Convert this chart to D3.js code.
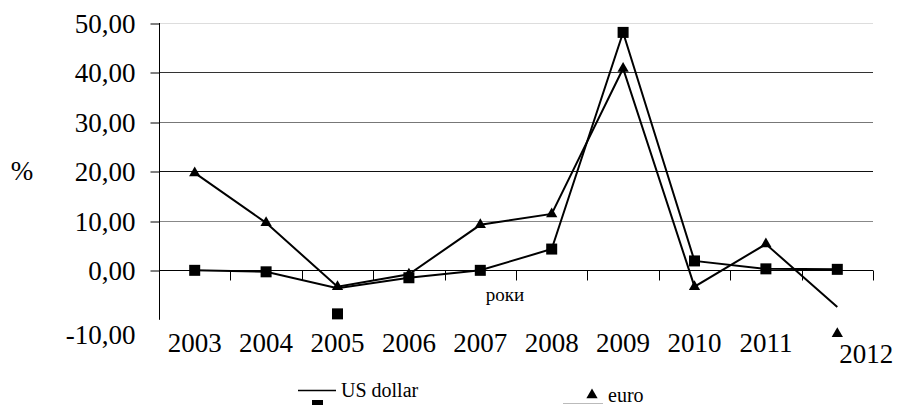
<!DOCTYPE html>
<html><head><meta charset="utf-8">
<script src="https://cdn.jsdelivr.net/npm/d3@7"></script>
<style>body{margin:0;background:#fff}svg{display:block}
svg text{font-family:"Liberation Serif","Times New Roman",Times,Tinos,"DejaVu Serif","Noto Serif",serif !important;fill:#000}</style>
</head><body><svg id="c" width="899" height="405"></svg>
<script>
const years = ["2003","2004","2005","2006","2007","2008","2009","2010","2011","2012"];
const usdLine = [0.0,-0.3,-3.6,-1.5,0.0,4.3,48.1,1.9,0.3,0.2];
const usdMarkers = [0.0,-0.3,-8.8,-1.5,0.0,4.3,48.1,1.9,0.3,0.2];
const euroLine = [19.7,9.6,-3.3,-0.8,9.2,11.4,40.8,-3.3,5.3,-7.4];
const euroMarkers = [19.7,9.6,-3.3,-0.8,9.2,11.4,40.8,-3.3,5.3,-12.8];
const yTicks = [-10,0,10,20,30,40,50];
const gridColors = {0:"#000",10:"#888",20:"#111",30:"#777",40:"#333",50:"#ddd"};

const svg = d3.select("#c");
const x = d3.scaleBand().domain(years).range([159,873]);
const y = d3.scaleLinear().domain([-10,50]).range([319.8,23]);
const cx = d => x(d)+x.bandwidth()/2;
const fmt = v => v.toFixed(2).replace(".",",");
const big = "27px";

// gridlines
svg.append("g").selectAll("line").data(yTicks.filter(t=>t>0)).join("line")
  .attr("x1",159).attr("x2",873).attr("y1",d=>Math.round(y(d))+0.5).attr("y2",d=>Math.round(y(d))+0.5)
  .attr("stroke",d=>gridColors[d]).attr("stroke-width",1);

// y axis
const yAxis = d3.axisLeft(y).tickValues(yTicks).tickSize(9).tickFormat(fmt).tickPadding(15);
const gy = svg.append("g").attr("transform","translate(159.5,0)").call(yAxis);
gy.attr("font-family",null).attr("font-size",null);
gy.select(".domain").attr("d","M0,23V319.8").attr("stroke","#000");
gy.selectAll(".tick line").attr("stroke","#000").filter(d=>d===-10).remove();
gy.selectAll(".tick text").style("font-size",big).attr("fill","#000")
  .attr("dy", d=> d===-10 ? "0.4em" : "0.34em")
  .attr("y", d=> d===-10 ? 13 : 0);
gy.selectAll(".tick line").attr("transform",d=>`translate(0,${Math.round(y(d))+0.5-y(d)})`);

// x axis at zero
const zy = Math.round(y(0))+0.5;
svg.append("line").attr("x1",159).attr("x2",873).attr("y1",zy).attr("y2",zy).attr("stroke","#000");
svg.append("g").selectAll("line").data(years).join("line")
  .attr("x1",d=>Math.round(x(d)+x.bandwidth())+0.5).attr("x2",d=>Math.round(x(d)+x.bandwidth())+0.5)
  .attr("y1",zy).attr("y2",zy+10).attr("stroke","#000");

// x labels
svg.append("g").selectAll("text").data(years).join("text")
  .attr("x",(d,i)=> i===years.length-1 ? cx(d)+29 : cx(d))
  .attr("y",(d,i)=> i===years.length-1 ? 363 : 352)
  .attr("text-anchor","middle").style("font-size",big).text(d=>d);

// lines
const line = vals => d3.line().x((d,i)=>cx(years[i])).y(d=>y(d))(vals);
svg.append("path").attr("d",line(usdLine)).attr("fill","none").attr("stroke","#000").attr("stroke-width",2);
svg.append("path").attr("d",line(euroLine)).attr("fill","none").attr("stroke","#000").attr("stroke-width",2);

// markers
svg.append("g").selectAll("rect").data(usdMarkers).join("rect")
  .attr("x",(d,i)=>cx(years[i])-5.5).attr("y",d=>y(d)-5.5).attr("width",11).attr("height",11).attr("fill","#000");
const tri = d3.symbol().type(d3.symbolTriangle).size(55);
svg.append("g").selectAll("path").data(euroMarkers).join("path")
  .attr("d",tri).attr("transform",(d,i)=>`translate(${cx(years[i])},${y(d)})`).attr("fill","#000");

// axis titles
svg.append("text").attr("x",22).attr("y",180).attr("text-anchor","middle").style("font-size",big).text("%");
svg.append("text").attr("x",505).attr("y",301).attr("text-anchor","middle").style("font-size","19px").text("роки");

// legend
svg.append("line").attr("x1",298).attr("x2",336).attr("y1",390.5).attr("y2",390.5).attr("stroke","#000").attr("stroke-width",1.5);
svg.append("rect").attr("x",312).attr("y",400).attr("width",11).attr("height",11).attr("fill","#000");
svg.append("text").attr("x",341).attr("y",397).style("font-size","20px").text("US dollar");
svg.append("path").attr("d",tri).attr("transform","translate(592,395)").attr("fill","#000");
svg.append("line").attr("x1",563).attr("x2",603).attr("y1",403.5).attr("y2",403.5).attr("stroke","#bbb").attr("stroke-width",1);
svg.append("text").attr("x",608).attr("y",402).style("font-size","20px").text("euro");
</script></body></html>
